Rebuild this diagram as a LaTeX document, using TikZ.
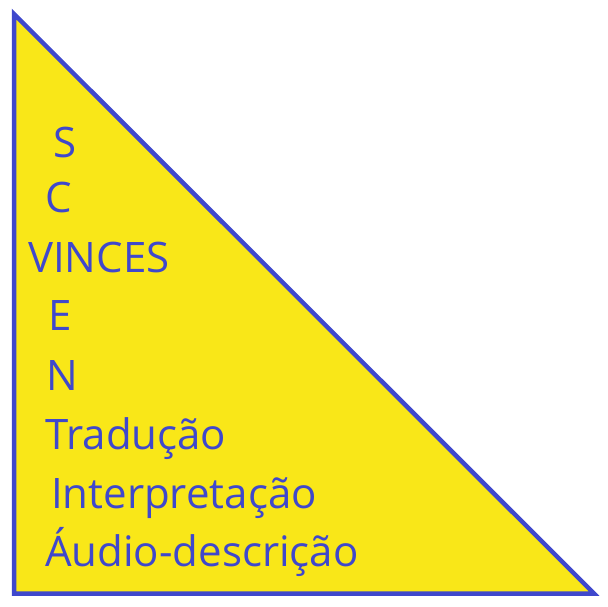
\documentclass[tikz,border=0pt]{standalone}
\usepackage{fontspec}
\setmainfont{Open Sans}
\definecolor{triyellow}{RGB}{249,231,24}
\definecolor{triblue}{RGB}{63,72,204}
\tikzset{
	word/.style = {anchor=base west, inner sep=0pt, text=triblue, font=\fontsize{42}{42}\selectfont}
}
\begin{document}
\begin{tikzpicture}[x=1pt, y=-1pt]
	\useasboundingbox (0, 0) rectangle (608, 607);
	% the triangle
	\coordinate (top) at (14, 14);
	\coordinate (corner) at (14, 593.5);
	\coordinate (right) at (594, 593.5);
	\draw[line width=4.5pt, triblue, fill=triyellow, line join=miter] (top) -- (corner) -- (right) -- cycle;
	% the letters
	\node[word] (s) at (53, 158) {S};
	\node[word] (c) at (45, 212.7) {C};
	\node[word] (vinces) at (28, 272) {VINCES};
	\node[word] (e) at (48, 330.7) {E};
	\node[word] (n) at (46, 390) {N};
	% the words
	\node[word] (traducao) at (45, 449) {Tradução};
	\node[word] (interpretacao) at (51, 508) {Interpretação};
	\node[word] (audio) at (45, 566) {Áudio-descrição};
\end{tikzpicture}
\end{document}
